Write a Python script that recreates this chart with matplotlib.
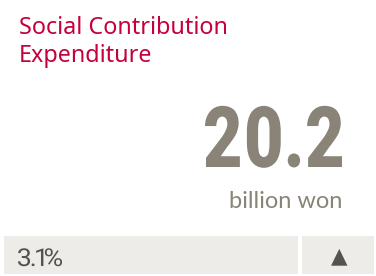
import matplotlib
matplotlib.use("Agg")
import matplotlib.pyplot as plt
from matplotlib.textpath import TextPath
from matplotlib.patches import PathPatch, Rectangle
from matplotlib.font_manager import FontProperties
from matplotlib.transforms import Affine2D

# data
title_lines = ["Social Contribution", "Expenditure"]
value = "20.2"
unit = "billion won"
change = "3.1%"
direction = "▲"

RED = "#c5003c"
TAUPE = "#8a8478"
BOX = "#eeece8"
DARK = "#555350"


def squeezed(ax, s, x0, x1, y, height, color, weight="bold", gap=5):
    # glyphs drawn as paths with fixed gap, squeezed horizontally to fill x0..x1
    fp = FontProperties(family="Roboto", weight=weight)
    ref = TextPath((0, 0), "0", size=100, prop=fp).get_extents()
    k = height / ref.height
    glyphs = []
    for ch in s:
        tp = TextPath((0, 0), ch, size=100, prop=fp)
        glyphs.append((tp, tp.get_extents()))
    ink = sum(bb.width * k for _, bb in glyphs)
    sx = (x1 - x0 - gap * (len(s) - 1)) / ink
    x = x0
    for tp, bb in glyphs:
        tr = Affine2D().translate(-bb.x0, 0).scale(k * sx, -k).translate(x, y)
        ax.add_patch(PathPatch(tr.transform_path(tp), color=color, lw=0))
        x += bb.width * k * sx + gap


fig = plt.figure(figsize=(3.76, 2.76), dpi=100)
ax = fig.add_axes([0, 0, 1, 1])
ax.set_xlim(0, 376)
ax.set_ylim(276, 0)
ax.axis("off")

# title
for yy, line in zip([34, 62], title_lines):
    ax.text(19, yy, line, color=RED, fontsize=16.8, family="Noto Sans",
            weight="semibold", va="baseline", ha="left")

# big number
squeezed(ax, value, 205, 342, 167, 62, TAUPE, weight="black", gap=7)
ax.text(342, 208, unit, color=TAUPE, fontsize=17, family="Lato",
        va="baseline", ha="right")

# bottom boxes
ax.add_patch(Rectangle((4, 236), 294, 38, color=BOX, lw=0))
ax.add_patch(Rectangle((302, 236), 72, 38, color=BOX, lw=0))
squeezed(ax, change, 18, 62, 266, 18, DARK, weight="normal", gap=1.5)
ax.text(339.5, 256, direction, color=DARK, fontsize=15.5, family="DejaVu Sans",
        va="center", ha="center")

fig.savefig("out.png", dpi=100)
